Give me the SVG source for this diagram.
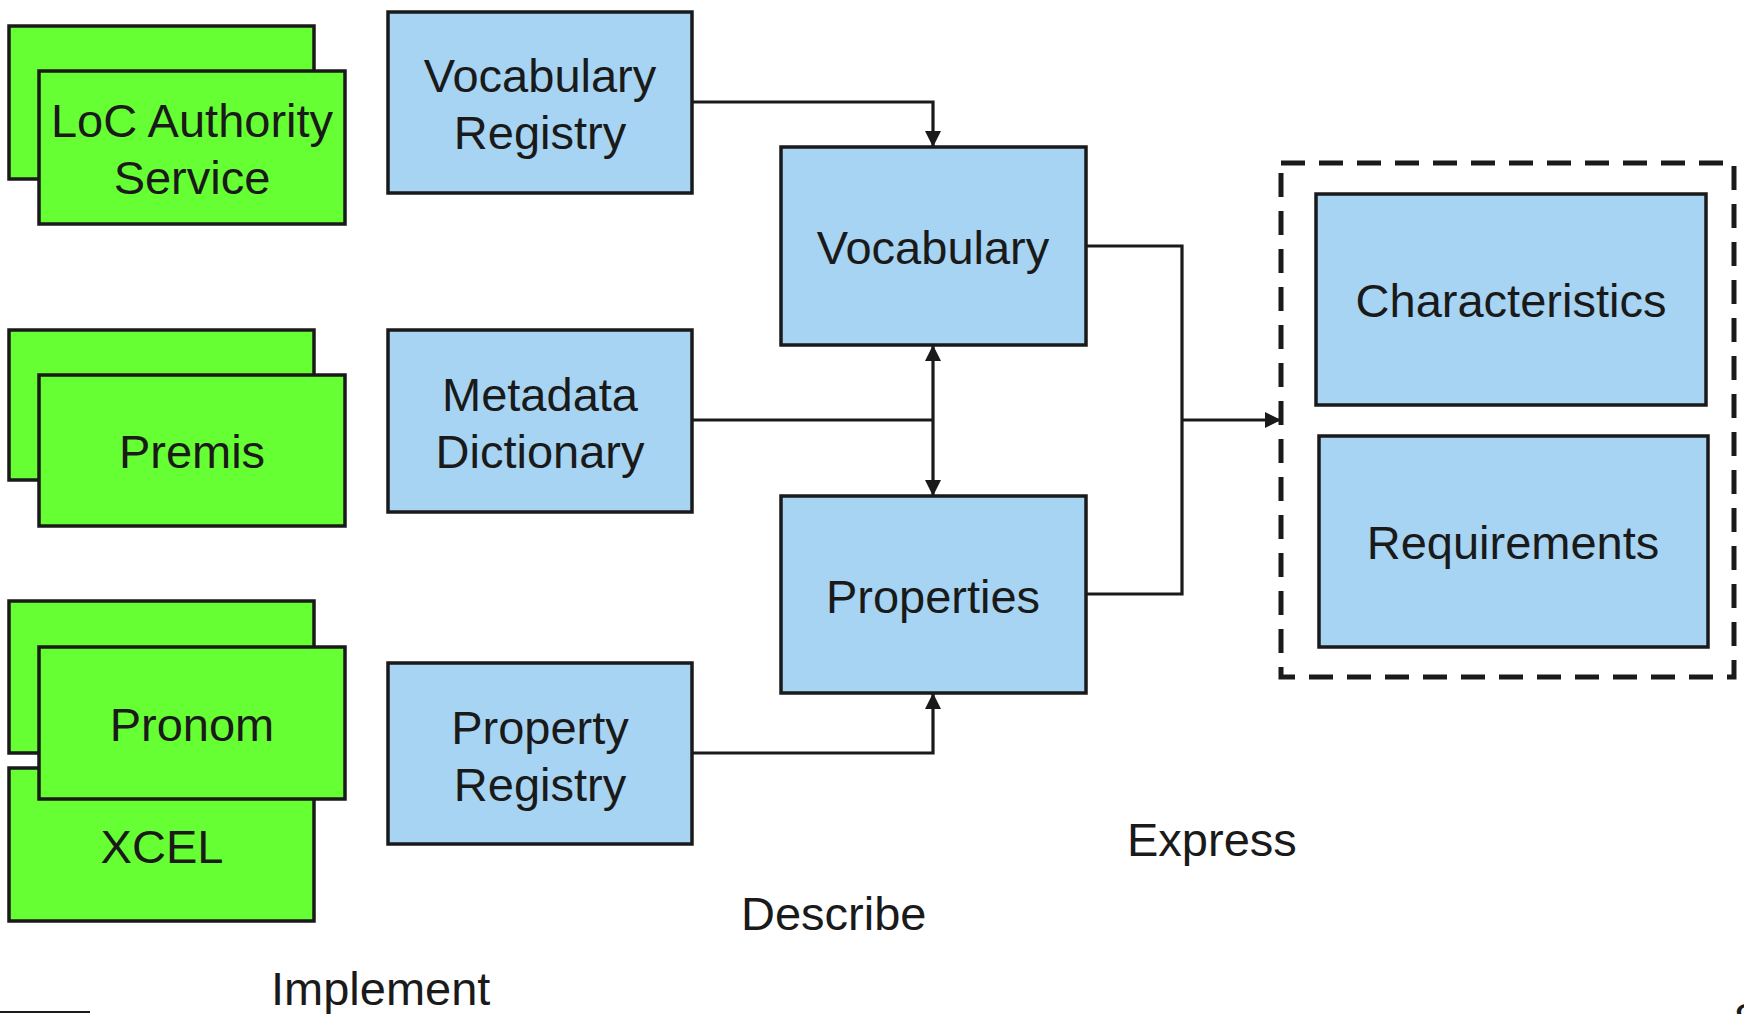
<svg xmlns="http://www.w3.org/2000/svg" width="1744" height="1014" viewBox="0 0 1744 1014">
<style>
.g{fill:#66ff33;stroke:#1a1a1a;stroke-width:3.5}
.b{fill:#a6d4f2;stroke:#1a1a1a;stroke-width:3.5}
text{font-family:"Liberation Sans",Arial,sans-serif;font-size:47px;fill:#1a1a1a;text-anchor:middle}
.c{fill:none;stroke:#1a1a1a;stroke-width:3.2}
.lbl{text-anchor:start}
</style>
<defs>
<marker id="ah" viewBox="0 0 16 16" refX="16" refY="8" markerWidth="16" markerHeight="16" markerUnits="userSpaceOnUse" orient="auto-start-reverse">
<path d="M0,0 L16,8 L0,16 Z" fill="#1a1a1a"/>
</marker>
</defs>
<rect width="1744" height="1014" fill="#ffffff"/>

<g id="loc">
<rect class="g" x="9" y="26" width="305" height="153"/>
<rect class="g" x="39" y="71" width="306" height="153"/>
<text x="192" y="137">LoC Authority</text>
<text x="192" y="194">Service</text>
</g>
<g id="premis">
<rect class="g" x="9" y="330" width="305" height="150"/>
<rect class="g" x="39" y="375" width="306" height="151"/>
<text x="192" y="468">Premis</text>
</g>
<g id="xcel">
<rect class="g" x="9" y="768" width="305" height="153"/>
<text x="162" y="863">XCEL</text>
</g>
<g id="pronom-back">
<rect class="g" x="9" y="601" width="305" height="152"/>
</g>
<g id="pronom">
<rect class="g" x="39" y="647" width="306" height="152"/>
<text x="192" y="741">Pronom</text>
</g>

<g id="vocab-registry">
<rect class="b" x="388" y="12" width="304" height="181"/>
<text x="540" y="92">Vocabulary</text>
<text x="540" y="149">Registry</text>
</g>
<g id="metadata-dictionary">
<rect class="b" x="388" y="330" width="304" height="182"/>
<text x="540" y="411">Metadata</text>
<text x="540" y="468">Dictionary</text>
</g>
<g id="property-registry">
<rect class="b" x="388" y="663" width="304" height="181"/>
<text x="540" y="744">Property</text>
<text x="540" y="801">Registry</text>
</g>
<g id="vocabulary">
<rect class="b" x="781" y="147" width="305" height="198"/>
<text x="933" y="264">Vocabulary</text>
</g>
<g id="properties">
<rect class="b" x="781" y="496" width="305" height="197"/>
<text x="933" y="613">Properties</text>
</g>

<g id="express-group">
<rect x="1281" y="163" width="453" height="514" fill="none" stroke="#1a1a1a" stroke-width="5" stroke-dasharray="24 14"/>
</g>
<g id="characteristics">
<rect class="b" x="1316" y="194" width="390" height="211"/>
<text x="1511" y="317">Characteristics</text>
</g>
<g id="requirements">
<rect class="b" x="1319" y="436" width="389" height="211"/>
<text x="1513" y="559">Requirements</text>
</g>

<g id="connectors">
<path class="c" d="M692,102 H933 V147" marker-end="url(#ah)"/>
<path class="c" d="M692,420 H933"/>
<path class="c" d="M933,345 V496" marker-start="url(#ah)" marker-end="url(#ah)"/>
<path class="c" d="M692,753 H933 V693" marker-end="url(#ah)"/>
<path class="c" d="M1086,246 H1182 V594 H1086"/>
<path class="c" d="M1182,420 H1281" marker-end="url(#ah)"/>
</g>

<g id="labels">
<text class="lbl" x="1127" y="856">Express</text>
<text class="lbl" x="741" y="930">Describe</text>
<text class="lbl" x="271" y="1005">Implement</text>
<text class="lbl" x="1734" y="1036">8</text>
</g>
<line x1="0" y1="1012" x2="90" y2="1012" stroke="#1a1a1a" stroke-width="2"/>
</svg>
